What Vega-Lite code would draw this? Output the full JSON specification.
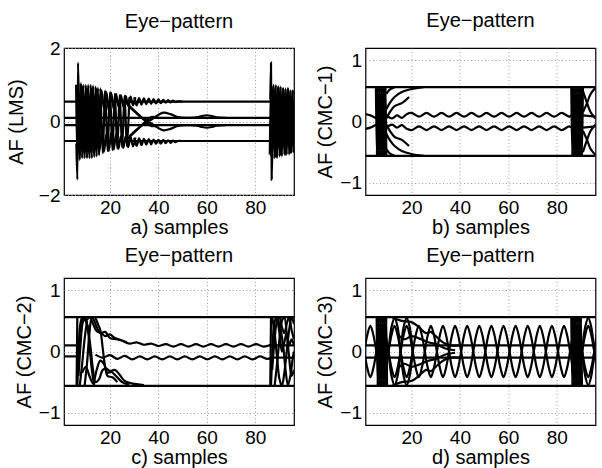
{
"$schema": "https://vega.github.io/schema/vega-lite/v6.json",
"padding": {"left": 5, "top": 10, "right": 2, "bottom": 0},
"background": "white",
"config": {
 "font": "Liberation Sans",
 "view": {"stroke": "black", "strokeWidth": 1.2},
 "axis": {"domain": false, "ticks": false, "labelFontSize": 19, "titleFontSize": 20, "titleFontWeight": "normal", "labelColor": "black", "titleColor": "black", "labelFont": "Liberation Sans", "titleFont": "Liberation Sans", "grid": true, "gridColor": "#999999", "gridDash": [1, 2.5], "gridWidth": 1},
 "axisX": {"labelPadding": 3, "titlePadding": 0},
 "axisY": {"labelPadding": 4},
 "title": {"fontSize": 20, "fontWeight": "normal", "color": "black", "font": "Liberation Sans", "frame": "group", "anchor": "middle"}
},
"datasets": {
 "a": [
  {"t":"a1","x":1,"y":0.54},{"t":"a1","x":96,"y":0.54},
  {"t":"a2","x":1,"y":-0.53},{"t":"a2","x":96,"y":-0.53},
  {"t":"a3","x":1,"y":0.1},{"t":"a3","x":96,"y":0.1},
  {"t":"a4","x":1,"y":-0.1},{"t":"a4","x":96,"y":-0.1},
  {"t":"a5","x":28,"y":0.4},{"t":"a5","x":31,"y":0.22},{"t":"a5","x":34,"y":0.06},{"t":"a5","x":36,"y":0.02},{"t":"a5","x":39,"y":0.14},{"t":"a5","x":42,"y":0.24},{"t":"a5","x":45,"y":0.2},{"t":"a5","x":48,"y":0.12},{"t":"a5","x":52,"y":0.1},{"t":"a5","x":56,"y":0.11},{"t":"a5","x":58,"y":0.15},{"t":"a5","x":60,"y":0.17},{"t":"a5","x":62,"y":0.15},{"t":"a5","x":64,"y":0.11},{"t":"a5","x":68,"y":0.1},
  {"t":"a6","x":28,"y":-0.4},{"t":"a6","x":31,"y":-0.22},{"t":"a6","x":34,"y":-0.06},{"t":"a6","x":36,"y":-0.02},{"t":"a6","x":39,"y":-0.14},{"t":"a6","x":42,"y":-0.24},{"t":"a6","x":45,"y":-0.2},{"t":"a6","x":48,"y":-0.12},{"t":"a6","x":52,"y":-0.1},{"t":"a6","x":56,"y":-0.11},{"t":"a6","x":58,"y":-0.15},{"t":"a6","x":60,"y":-0.17},{"t":"a6","x":62,"y":-0.15},{"t":"a6","x":64,"y":-0.11},{"t":"a6","x":68,"y":-0.1},
  {"t":"a7","x":26,"y":0.55},{"t":"a7","x":30,"y":0.3},{"t":"a7","x":34,"y":0.05},{"t":"a7","x":37,"y":-0.12},{"t":"a7","x":40,"y":-0.1},
  {"t":"a8","x":26,"y":-0.55},{"t":"a8","x":30,"y":-0.3},{"t":"a8","x":34,"y":-0.05},{"t":"a8","x":37,"y":0.12},{"t":"a8","x":40,"y":0.1},
  {"t":"a9","x":6.1,"y":-0.6},{"t":"a9","x":6.5,"y":-1.58},{"t":"a9","x":6.8,"y":1.6},{"t":"a9","x":7.1,"y":0.6},
  {"t":"a10","x":6,"y":1.0},{"t":"a10","x":6.5,"y":-1.05},{"t":"a10","x":7,"y":1.05},{"t":"a10","x":7.5,"y":-1.05},{"t":"a10","x":8,"y":1.05},{"t":"a10","x":8.5,"y":-1.0},{"t":"a10","x":9,"y":1.0},{"t":"a10","x":9.5,"y":-1.0},{"t":"a10","x":10,"y":1.0},{"t":"a10","x":10.5,"y":-1.0},{"t":"a10","x":11,"y":1.0},{"t":"a10","x":11.5,"y":-1.0},{"t":"a10","x":12,"y":1.0},{"t":"a10","x":12.5,"y":-1.0},{"t":"a10","x":13,"y":0.98},{"t":"a10","x":13.5,"y":-0.97},{"t":"a10","x":14,"y":0.95},{"t":"a10","x":14.5,"y":-0.95},{"t":"a10","x":15,"y":0.92},{"t":"a10","x":15.5,"y":-0.92},{"t":"a10","x":16,"y":0.9},{"t":"a10","x":17,"y":-0.86},{"t":"a10","x":18,"y":0.84},{"t":"a10","x":19,"y":-0.8},{"t":"a10","x":20,"y":0.8},{"t":"a10","x":21,"y":-0.78},{"t":"a10","x":22,"y":0.76},{"t":"a10","x":23,"y":-0.74},{"t":"a10","x":24,"y":0.72},{"t":"a10","x":25,"y":-0.7},{"t":"a10","x":26,"y":0.7},{"t":"a10","x":27,"y":-0.68},{"t":"a10","x":28,"y":0.66},
  {"t":"a11","x":6.5,"y":0.9},{"t":"a11","x":7.5,"y":0.3},{"t":"a11","x":8.5,"y":0.95},{"t":"a11","x":9.5,"y":0.25},{"t":"a11","x":10.5,"y":0.9},{"t":"a11","x":11.5,"y":0.3},{"t":"a11","x":12.5,"y":0.9},{"t":"a11","x":13.5,"y":0.35},{"t":"a11","x":14.5,"y":0.88},{"t":"a11","x":15.5,"y":0.3},{"t":"a11","x":16.5,"y":0.85},{"t":"a11","x":17.5,"y":0.35},{"t":"a11","x":18.5,"y":0.8},{"t":"a11","x":19.5,"y":0.3},{"t":"a11","x":20.5,"y":0.78},{"t":"a11","x":21.5,"y":0.35},{"t":"a11","x":22.5,"y":0.75},{"t":"a11","x":23.5,"y":0.4},{"t":"a11","x":24.5,"y":0.72},{"t":"a11","x":25.5,"y":0.4},{"t":"a11","x":26.5,"y":0.7},{"t":"a11","x":27.5,"y":0.42},{"t":"a11","x":28.5,"y":0.68},{"t":"a11","x":29.5,"y":0.44},{"t":"a11","x":30.5,"y":0.66},
  {"t":"a12","x":6.5,"y":-0.3},{"t":"a12","x":7.5,"y":-0.95},{"t":"a12","x":8.5,"y":-0.3},{"t":"a12","x":9.5,"y":-0.9},{"t":"a12","x":10.5,"y":-0.25},{"t":"a12","x":11.5,"y":-0.9},{"t":"a12","x":12.5,"y":-0.3},{"t":"a12","x":13.5,"y":-0.88},{"t":"a12","x":14.5,"y":-0.35},{"t":"a12","x":15.5,"y":-0.85},{"t":"a12","x":16.5,"y":-0.3},{"t":"a12","x":17.5,"y":-0.82},{"t":"a12","x":18.5,"y":-0.35},{"t":"a12","x":19.5,"y":-0.8},{"t":"a12","x":20.5,"y":-0.3},{"t":"a12","x":21.5,"y":-0.76},{"t":"a12","x":22.5,"y":-0.35},{"t":"a12","x":23.5,"y":-0.74},{"t":"a12","x":24.5,"y":-0.4},{"t":"a12","x":25.5,"y":-0.72},{"t":"a12","x":26.5,"y":-0.4},{"t":"a12","x":27.5,"y":-0.7},{"t":"a12","x":28.5,"y":-0.42},{"t":"a12","x":29.5,"y":-0.68},{"t":"a12","x":30.5,"y":-0.44},
  {"t":"a13","x":30,"y":0.66},{"t":"a13","x":31,"y":0.44},{"t":"a13","x":32,"y":0.64},{"t":"a13","x":33,"y":0.46},{"t":"a13","x":34,"y":0.63},{"t":"a13","x":35,"y":0.47},{"t":"a13","x":36,"y":0.62},{"t":"a13","x":37,"y":0.48},{"t":"a13","x":38,"y":0.61},{"t":"a13","x":39,"y":0.49},{"t":"a13","x":40,"y":0.6},{"t":"a13","x":41,"y":0.5},{"t":"a13","x":42,"y":0.59},{"t":"a13","x":43,"y":0.51},{"t":"a13","x":44,"y":0.58},{"t":"a13","x":45,"y":0.52},{"t":"a13","x":46,"y":0.57},{"t":"a13","x":47,"y":0.53},{"t":"a13","x":48,"y":0.55},{"t":"a13","x":50,"y":0.54},
  {"t":"a14","x":30,"y":-0.44},{"t":"a14","x":31,"y":-0.66},{"t":"a14","x":32,"y":-0.46},{"t":"a14","x":33,"y":-0.64},{"t":"a14","x":34,"y":-0.47},{"t":"a14","x":35,"y":-0.63},{"t":"a14","x":36,"y":-0.48},{"t":"a14","x":37,"y":-0.62},{"t":"a14","x":38,"y":-0.49},{"t":"a14","x":39,"y":-0.61},{"t":"a14","x":40,"y":-0.5},{"t":"a14","x":41,"y":-0.6},{"t":"a14","x":42,"y":-0.5},{"t":"a14","x":43,"y":-0.59},{"t":"a14","x":44,"y":-0.51},{"t":"a14","x":45,"y":-0.58},{"t":"a14","x":46,"y":-0.52},{"t":"a14","x":47,"y":-0.56},{"t":"a14","x":48,"y":-0.53},{"t":"a14","x":50,"y":-0.53},
  {"t":"a15","x":86.2,"y":0.6},{"t":"a15","x":86.5,"y":1.6},{"t":"a15","x":86.8,"y":-1.58},{"t":"a15","x":87.1,"y":-0.6},
  {"t":"a16","x":86,"y":-0.9},{"t":"a16","x":86.5,"y":1.0},{"t":"a16","x":87,"y":-1.0},{"t":"a16","x":87.5,"y":1.0},{"t":"a16","x":88,"y":-1.0},{"t":"a16","x":88.5,"y":1.0},{"t":"a16","x":89,"y":-1.0},{"t":"a16","x":89.5,"y":0.95},{"t":"a16","x":90,"y":-0.95},{"t":"a16","x":90.5,"y":0.95},{"t":"a16","x":91,"y":-0.95},{"t":"a16","x":91.5,"y":0.9},{"t":"a16","x":92,"y":-0.9},{"t":"a16","x":92.5,"y":0.9},{"t":"a16","x":93,"y":-0.9},{"t":"a16","x":93.5,"y":0.9},{"t":"a16","x":94,"y":-0.9},{"t":"a16","x":94.5,"y":0.85},{"t":"a16","x":95,"y":-0.85},{"t":"a16","x":95.5,"y":0.85},{"t":"a16","x":96,"y":-0.85},
  {"t":"a17","x":86.5,"y":0.3},{"t":"a17","x":87.5,"y":0.95},{"t":"a17","x":88.5,"y":0.3},{"t":"a17","x":89.5,"y":0.95},{"t":"a17","x":90.5,"y":0.3},{"t":"a17","x":91.5,"y":0.9},{"t":"a17","x":92.5,"y":0.3},{"t":"a17","x":93.5,"y":0.9},{"t":"a17","x":94.5,"y":0.3},{"t":"a17","x":95.5,"y":0.85},
  {"t":"a18","x":86.5,"y":-0.95},{"t":"a18","x":87.5,"y":-0.3},{"t":"a18","x":88.5,"y":-0.95},{"t":"a18","x":89.5,"y":-0.3},{"t":"a18","x":90.5,"y":-0.9},{"t":"a18","x":91.5,"y":-0.3},{"t":"a18","x":92.5,"y":-0.9},{"t":"a18","x":93.5,"y":-0.3},{"t":"a18","x":94.5,"y":-0.85},{"t":"a18","x":95.5,"y":-0.3}
 ],
 "b": [
  {"t":"b1","x":1,"y":0.56},{"t":"b1","x":96,"y":0.56},
  {"t":"b2","x":1,"y":-0.56},{"t":"b2","x":96,"y":-0.56},
  {"t":"b3","x":1,"y":0.12},{"t":"b3","x":3,"y":0.1},{"t":"b3","x":5.5,"y":0.05},
  {"t":"b4","x":1,"y":-0.12},{"t":"b4","x":3,"y":-0.1},{"t":"b4","x":5.5,"y":-0.05},
  {"t":"b5","x":5.3,"y":0.56},{"t":"b5","x":5.7,"y":-0.56},{"t":"b5","x":6.1,"y":0.56},{"t":"b5","x":6.5,"y":-0.56},{"t":"b5","x":6.9,"y":0.56},{"t":"b5","x":7.3,"y":-0.56},{"t":"b5","x":7.7,"y":0.56},{"t":"b5","x":8.1,"y":-0.56},{"t":"b5","x":8.5,"y":0.56},{"t":"b5","x":8.9,"y":-0.56},{"t":"b5","x":9.3,"y":0.56},{"t":"b5","x":9.6,"y":-0.56},
  {"t":"b6","x":86,"y":0.56},{"t":"b6","x":86.4,"y":-0.56},{"t":"b6","x":86.8,"y":0.56},{"t":"b6","x":87.2,"y":-0.56},{"t":"b6","x":87.6,"y":0.56},{"t":"b6","x":88,"y":-0.56},{"t":"b6","x":88.4,"y":0.56},{"t":"b6","x":88.8,"y":-0.56},{"t":"b6","x":89.2,"y":0.56},{"t":"b6","x":89.6,"y":-0.56},{"t":"b6","x":90,"y":0.56},{"t":"b6","x":90.4,"y":-0.56},{"t":"b6","x":90.8,"y":0.56},
  {"t":"b7","x":9.6,"y":0.1},{"t":"b7","x":12,"y":0.05},{"t":"b7","x":14,"y":0.1},{"t":"b7","x":16,"y":0.06},{"t":"b7","x":18,"y":0.12},{"t":"b7","x":20,"y":0.14},{"t":"b7","x":23.1,"y":0.08},{"t":"b7","x":26.2,"y":0.14},{"t":"b7","x":29.3,"y":0.08},{"t":"b7","x":32.4,"y":0.14},{"t":"b7","x":35.5,"y":0.08},{"t":"b7","x":38.6,"y":0.14},{"t":"b7","x":41.7,"y":0.08},{"t":"b7","x":44.8,"y":0.14},{"t":"b7","x":47.9,"y":0.08},{"t":"b7","x":51,"y":0.14},{"t":"b7","x":54.1,"y":0.08},{"t":"b7","x":57.2,"y":0.14},{"t":"b7","x":60.3,"y":0.08},{"t":"b7","x":63.4,"y":0.14},{"t":"b7","x":66.5,"y":0.08},{"t":"b7","x":69.6,"y":0.14},{"t":"b7","x":72.7,"y":0.08},{"t":"b7","x":75.8,"y":0.14},{"t":"b7","x":78.9,"y":0.08},{"t":"b7","x":82,"y":0.14},{"t":"b7","x":85.1,"y":0.08},{"t":"b7","x":86,"y":0.1},
  {"t":"b8","x":9.6,"y":-0.1},{"t":"b8","x":12,"y":-0.05},{"t":"b8","x":14,"y":-0.1},{"t":"b8","x":16,"y":-0.06},{"t":"b8","x":18,"y":-0.12},{"t":"b8","x":20,"y":-0.14},{"t":"b8","x":23.1,"y":-0.08},{"t":"b8","x":26.2,"y":-0.14},{"t":"b8","x":29.3,"y":-0.08},{"t":"b8","x":32.4,"y":-0.14},{"t":"b8","x":35.5,"y":-0.08},{"t":"b8","x":38.6,"y":-0.14},{"t":"b8","x":41.7,"y":-0.08},{"t":"b8","x":44.8,"y":-0.14},{"t":"b8","x":47.9,"y":-0.08},{"t":"b8","x":51,"y":-0.14},{"t":"b8","x":54.1,"y":-0.08},{"t":"b8","x":57.2,"y":-0.14},{"t":"b8","x":60.3,"y":-0.08},{"t":"b8","x":63.4,"y":-0.14},{"t":"b8","x":66.5,"y":-0.08},{"t":"b8","x":69.6,"y":-0.14},{"t":"b8","x":72.7,"y":-0.08},{"t":"b8","x":75.8,"y":-0.14},{"t":"b8","x":78.9,"y":-0.08},{"t":"b8","x":82,"y":-0.14},{"t":"b8","x":85.1,"y":-0.08},{"t":"b8","x":86,"y":-0.1},
  {"t":"b9","x":90.8,"y":0.1},{"t":"b9","x":96,"y":0.08},
  {"t":"b9b","x":90.8,"y":-0.1},{"t":"b9b","x":96,"y":-0.08},
  {"t":"b10","x":9.6,"y":0.2},{"t":"b10","x":11,"y":0.3},{"t":"b10","x":13,"y":0.4},{"t":"b10","x":16,"y":0.48},{"t":"b10","x":20,"y":0.53},{"t":"b10","x":25,"y":0.56},
  {"t":"b11","x":9.6,"y":0.45},{"t":"b11","x":11,"y":0.52},{"t":"b11","x":13,"y":0.56},
  {"t":"b12","x":9.6,"y":-0.2},{"t":"b12","x":11,"y":-0.3},{"t":"b12","x":13,"y":-0.4},{"t":"b12","x":16,"y":-0.48},{"t":"b12","x":20,"y":-0.53},{"t":"b12","x":25,"y":-0.56},
  {"t":"b13","x":9.6,"y":-0.45},{"t":"b13","x":11,"y":-0.52},{"t":"b13","x":13,"y":-0.56},
  {"t":"b14","x":9.6,"y":0.05},{"t":"b14","x":11,"y":0.15},{"t":"b14","x":13,"y":0.25},{"t":"b14","x":16,"y":0.3},{"t":"b14","x":19,"y":0.4},
  {"t":"b15","x":9.6,"y":-0.05},{"t":"b15","x":11,"y":-0.15},{"t":"b15","x":13,"y":-0.25},{"t":"b15","x":16,"y":-0.3},{"t":"b15","x":19,"y":-0.4},
  {"t":"b16","x":90.8,"y":0.5},{"t":"b16","x":92.5,"y":0.3},{"t":"b16","x":94,"y":0.15},{"t":"b16","x":96,"y":0.05},
  {"t":"b17","x":90.8,"y":0.15},{"t":"b17","x":92.5,"y":0.3},{"t":"b17","x":94,"y":0.45},{"t":"b17","x":96,"y":0.55},
  {"t":"b18","x":90.8,"y":-0.5},{"t":"b18","x":92.5,"y":-0.3},{"t":"b18","x":94,"y":-0.15},{"t":"b18","x":96,"y":-0.05},
  {"t":"b19","x":90.8,"y":-0.15},{"t":"b19","x":92.5,"y":-0.3},{"t":"b19","x":94,"y":-0.45},{"t":"b19","x":96,"y":-0.55}
 ],
 "c": [
  {"t":"c1","x":1,"y":0.56},{"t":"c1","x":96,"y":0.56},
  {"t":"c2","x":1,"y":-0.56},{"t":"c2","x":96,"y":-0.56},
  {"t":"c3","x":1,"y":0.1},{"t":"c3","x":6.3,"y":0.1},
  {"t":"c4","x":1,"y":-0.08},{"t":"c4","x":6.3,"y":-0.08},
  {"t":"c5","x":6.2,"y":-0.56},{"t":"c5","x":6.5,"y":0.56},
  {"t":"c6","x":25,"y":0.18},{"t":"c6","x":28,"y":0.13},{"t":"c6","x":31,"y":0.15},{"t":"c6","x":34,"y":0.11},{"t":"c6","x":37,"y":0.13},{"t":"c6","x":40,"y":0.09},{"t":"c6","x":43.1,"y":0.12},{"t":"c6","x":46.2,"y":0.08},{"t":"c6","x":49.3,"y":0.12},{"t":"c6","x":52.4,"y":0.08},{"t":"c6","x":55.5,"y":0.12},{"t":"c6","x":58.6,"y":0.08},{"t":"c6","x":61.7,"y":0.12},{"t":"c6","x":64.8,"y":0.08},{"t":"c6","x":67.9,"y":0.12},{"t":"c6","x":71,"y":0.08},{"t":"c6","x":74.1,"y":0.12},{"t":"c6","x":77.2,"y":0.08},{"t":"c6","x":80.3,"y":0.12},{"t":"c6","x":83.4,"y":0.08},{"t":"c6","x":86.5,"y":0.11},
  {"t":"c7","x":14,"y":-0.05},{"t":"c7","x":17,"y":-0.1},{"t":"c7","x":20,"y":-0.06},{"t":"c7","x":23,"y":-0.12},{"t":"c7","x":26.1,"y":-0.07},{"t":"c7","x":29.2,"y":-0.13},{"t":"c7","x":32.3,"y":-0.08},{"t":"c7","x":35.4,"y":-0.13},{"t":"c7","x":38.5,"y":-0.08},{"t":"c7","x":41.6,"y":-0.13},{"t":"c7","x":44.7,"y":-0.08},{"t":"c7","x":47.8,"y":-0.13},{"t":"c7","x":50.9,"y":-0.08},{"t":"c7","x":54,"y":-0.13},{"t":"c7","x":57.1,"y":-0.08},{"t":"c7","x":60.2,"y":-0.13},{"t":"c7","x":63.3,"y":-0.08},{"t":"c7","x":66.4,"y":-0.13},{"t":"c7","x":69.5,"y":-0.08},{"t":"c7","x":72.6,"y":-0.13},{"t":"c7","x":75.7,"y":-0.08},{"t":"c7","x":78.8,"y":-0.13},{"t":"c7","x":81.9,"y":-0.08},{"t":"c7","x":85,"y":-0.12},{"t":"c7","x":87,"y":-0.1},
  {"t":"c8","x":86.5,"y":0.1},{"t":"c8","x":96,"y":0.1},
  {"t":"c9","x":87,"y":-0.1},{"t":"c9","x":96,"y":-0.1},
  {"t":"c10","x":6.5,"y":-0.56},{"t":"c10","x":7,"y":-0.1},{"t":"c10","x":7.6,"y":0.4},{"t":"c10","x":8.5,"y":0.55},{"t":"c10","x":10,"y":0.5},{"t":"c10","x":11.5,"y":0.56},{"t":"c10","x":13,"y":0.45},{"t":"c10","x":14.5,"y":0.33},{"t":"c10","x":16.5,"y":0.3},{"t":"c10","x":18,"y":0.25},{"t":"c10","x":20,"y":0.28},{"t":"c10","x":22,"y":0.22},{"t":"c10","x":25,"y":0.18},
  {"t":"c11","x":7,"y":-0.4},{"t":"c11","x":7.8,"y":0.1},{"t":"c11","x":8.6,"y":0.45},{"t":"c11","x":9.5,"y":0.56},{"t":"c11","x":10.8,"y":0.4},{"t":"c11","x":12,"y":0.05},{"t":"c11","x":13,"y":-0.3},{"t":"c11","x":14,"y":-0.5},{"t":"c11","x":15.5,"y":-0.45},{"t":"c11","x":17,"y":-0.3},{"t":"c11","x":18.5,"y":-0.28},{"t":"c11","x":20,"y":-0.32},{"t":"c11","x":22,"y":-0.3},{"t":"c11","x":24,"y":-0.38},{"t":"c11","x":26,"y":-0.48},{"t":"c11","x":29,"y":-0.52},{"t":"c11","x":34,"y":-0.55},
  {"t":"c12","x":8,"y":0.3},{"t":"c12","x":9,"y":0.56},{"t":"c12","x":10.5,"y":0.45},{"t":"c12","x":11.5,"y":0.1},{"t":"c12","x":12.5,"y":-0.3},{"t":"c12","x":13.5,"y":-0.56},
  {"t":"c13","x":9.5,"y":-0.56},{"t":"c13","x":10.5,"y":-0.2},{"t":"c13","x":11.5,"y":0.3},{"t":"c13","x":12.5,"y":0.56},{"t":"c13","x":13.5,"y":0.5},{"t":"c13","x":14.5,"y":0.4},{"t":"c13","x":16,"y":0.3},{"t":"c13","x":18,"y":0.32},{"t":"c13","x":20,"y":0.22},{"t":"c13","x":23,"y":0.2},{"t":"c13","x":27,"y":0.15},
  {"t":"c14","x":8.5,"y":-0.35},{"t":"c14","x":10,"y":-0.25},{"t":"c14","x":11.5,"y":-0.4},{"t":"c14","x":13,"y":-0.52},{"t":"c14","x":14.5,"y":-0.3},{"t":"c14","x":16,"y":-0.15},{"t":"c14","x":17.5,"y":-0.2},{"t":"c14","x":19,"y":-0.35},{"t":"c14","x":20.5,"y":-0.33},{"t":"c14","x":22.5,"y":-0.4},{"t":"c14","x":25,"y":-0.5},{"t":"c14","x":28,"y":-0.54},
  {"t":"c15","x":7.5,"y":-0.56},{"t":"c15","x":8.5,"y":-0.2},{"t":"c15","x":9.5,"y":0.2},{"t":"c15","x":10.5,"y":0.5},
  {"t":"c16","x":14,"y":0.55},{"t":"c16","x":15,"y":0.45},{"t":"c16","x":16,"y":0.35},{"t":"c16","x":17,"y":0.05},{"t":"c16","x":18,"y":-0.25},{"t":"c16","x":19,"y":-0.4},{"t":"c16","x":21,"y":-0.42},{"t":"c16","x":23,"y":-0.5},
  {"t":"c17","x":86.2,"y":-0.56},{"t":"c17","x":86.5,"y":0.56},
  {"t":"c18","x":86.5,"y":-0.56},{"t":"c18","x":87.1,"y":0},{"t":"c18","x":87.8,"y":0.45},{"t":"c18","x":88.8,"y":0.56},{"t":"c18","x":90,"y":0.45},{"t":"c18","x":91.5,"y":0.1},{"t":"c18","x":92.5,"y":-0.3},{"t":"c18","x":93.5,"y":-0.55},{"t":"c18","x":94.5,"y":-0.4},{"t":"c18","x":95.5,"y":-0.1},{"t":"c18","x":96,"y":0},
  {"t":"c19","x":87,"y":-0.3},{"t":"c19","x":88,"y":0.2},{"t":"c19","x":89,"y":0.5},{"t":"c19","x":90,"y":0.56},{"t":"c19","x":91,"y":0.4},{"t":"c19","x":92,"y":0.3},{"t":"c19","x":93,"y":0.45},{"t":"c19","x":94,"y":0.56},{"t":"c19","x":95,"y":0.35},{"t":"c19","x":96,"y":0.2},
  {"t":"c20","x":87,"y":0.56},{"t":"c20","x":88,"y":0.3},{"t":"c20","x":89,"y":-0.1},{"t":"c20","x":90,"y":-0.45},{"t":"c20","x":91,"y":-0.56},{"t":"c20","x":92,"y":-0.35},{"t":"c20","x":93,"y":0},{"t":"c20","x":94,"y":0.35},{"t":"c20","x":95,"y":0.56},{"t":"c20","x":96,"y":0.45},
  {"t":"c21","x":88,"y":-0.56},{"t":"c21","x":89,"y":-0.2},{"t":"c21","x":90,"y":0.2},{"t":"c21","x":91,"y":0.5},{"t":"c21","x":92,"y":0.56},{"t":"c21","x":93,"y":0.3},{"t":"c21","x":94,"y":-0.1},{"t":"c21","x":95,"y":-0.4},{"t":"c21","x":96,"y":-0.3},
  {"t":"c22","x":89,"y":0.56},{"t":"c22","x":90,"y":0.3},{"t":"c22","x":91,"y":0.0},{"t":"c22","x":92,"y":0.15},{"t":"c22","x":93,"y":0.3},{"t":"c22","x":94,"y":0.1},{"t":"c22","x":95,"y":0.2},{"t":"c22","x":96,"y":0.1}
 ],
 "d": [
  {"t":"d1","x":1,"y":0.56},{"t":"d1","x":96,"y":0.56},
  {"t":"d2","x":1,"y":-0.56},{"t":"d2","x":96,"y":-0.56},
  {"t":"d3","x":1,"y":0.1},{"t":"d3","x":96,"y":0.1},
  {"t":"d4","x":1,"y":-0.1},{"t":"d4","x":96,"y":-0.1},
  {"t":"d6","x":0.5,"y":0},{"t":"d6","x":1.75,"y":0.27},{"t":"d6","x":3,"y":0.42},{"t":"d6","x":4.25,"y":0.27},{"t":"d6","x":5.5,"y":0},{"t":"d6","x":6.75,"y":-0.27},{"t":"d6","x":8,"y":-0.42},{"t":"d6","x":9.25,"y":-0.27},{"t":"d6","x":10.5,"y":0},{"t":"d6","x":11.75,"y":0.27},{"t":"d6","x":13,"y":0.42},{"t":"d6","x":14.25,"y":0.27},{"t":"d6","x":15.5,"y":0},{"t":"d6","x":16.75,"y":-0.27},{"t":"d6","x":18,"y":-0.42},{"t":"d6","x":19.25,"y":-0.27},{"t":"d6","x":20.5,"y":0},{"t":"d6","x":21.75,"y":0.27},{"t":"d6","x":23,"y":0.42},{"t":"d6","x":24.25,"y":0.27},{"t":"d6","x":25.5,"y":0},{"t":"d6","x":26.75,"y":-0.27},{"t":"d6","x":28,"y":-0.42},{"t":"d6","x":29.25,"y":-0.27},{"t":"d6","x":30.5,"y":0},{"t":"d6","x":31.75,"y":0.27},{"t":"d6","x":33,"y":0.42},{"t":"d6","x":34.25,"y":0.27},{"t":"d6","x":35.5,"y":0},{"t":"d6","x":36.75,"y":-0.27},{"t":"d6","x":38,"y":-0.42},{"t":"d6","x":39.25,"y":-0.27},{"t":"d6","x":40.5,"y":0},{"t":"d6","x":41.75,"y":0.27},{"t":"d6","x":43,"y":0.42},{"t":"d6","x":44.25,"y":0.27},{"t":"d6","x":45.5,"y":0},{"t":"d6","x":46.75,"y":-0.27},{"t":"d6","x":48,"y":-0.42},{"t":"d6","x":49.25,"y":-0.27},{"t":"d6","x":50.5,"y":0},{"t":"d6","x":51.75,"y":0.27},{"t":"d6","x":53,"y":0.42},{"t":"d6","x":54.25,"y":0.27},{"t":"d6","x":55.5,"y":0},{"t":"d6","x":56.75,"y":-0.27},{"t":"d6","x":58,"y":-0.42},{"t":"d6","x":59.25,"y":-0.27},{"t":"d6","x":60.5,"y":0},{"t":"d6","x":61.75,"y":0.27},{"t":"d6","x":63,"y":0.42},{"t":"d6","x":64.25,"y":0.27},{"t":"d6","x":65.5,"y":0},{"t":"d6","x":66.75,"y":-0.27},{"t":"d6","x":68,"y":-0.42},{"t":"d6","x":69.25,"y":-0.27},{"t":"d6","x":70.5,"y":0},{"t":"d6","x":71.75,"y":0.27},{"t":"d6","x":73,"y":0.42},{"t":"d6","x":74.25,"y":0.27},{"t":"d6","x":75.5,"y":0},{"t":"d6","x":76.75,"y":-0.27},{"t":"d6","x":78,"y":-0.42},{"t":"d6","x":79.25,"y":-0.27},{"t":"d6","x":80.5,"y":0},{"t":"d6","x":81.75,"y":0.27},{"t":"d6","x":83,"y":0.42},{"t":"d6","x":84.25,"y":0.27},{"t":"d6","x":85.5,"y":0},{"t":"d6","x":86.75,"y":-0.27},{"t":"d6","x":88,"y":-0.42},{"t":"d6","x":89.25,"y":-0.27},{"t":"d6","x":90.5,"y":0},{"t":"d6","x":91.75,"y":0.27},{"t":"d6","x":93,"y":0.42},{"t":"d6","x":94.25,"y":0.27},{"t":"d6","x":95.5,"y":0},{"t":"d6","x":96.75,"y":-0.27},
  {"t":"d7","x":0.5,"y":0},{"t":"d7","x":1.75,"y":-0.27},{"t":"d7","x":3,"y":-0.42},{"t":"d7","x":4.25,"y":-0.27},{"t":"d7","x":5.5,"y":0},{"t":"d7","x":6.75,"y":0.27},{"t":"d7","x":8,"y":0.42},{"t":"d7","x":9.25,"y":0.27},{"t":"d7","x":10.5,"y":0},{"t":"d7","x":11.75,"y":-0.27},{"t":"d7","x":13,"y":-0.42},{"t":"d7","x":14.25,"y":-0.27},{"t":"d7","x":15.5,"y":0},{"t":"d7","x":16.75,"y":0.27},{"t":"d7","x":18,"y":0.42},{"t":"d7","x":19.25,"y":0.27},{"t":"d7","x":20.5,"y":0},{"t":"d7","x":21.75,"y":-0.27},{"t":"d7","x":23,"y":-0.42},{"t":"d7","x":24.25,"y":-0.27},{"t":"d7","x":25.5,"y":0},{"t":"d7","x":26.75,"y":0.27},{"t":"d7","x":28,"y":0.42},{"t":"d7","x":29.25,"y":0.27},{"t":"d7","x":30.5,"y":0},{"t":"d7","x":31.75,"y":-0.27},{"t":"d7","x":33,"y":-0.42},{"t":"d7","x":34.25,"y":-0.27},{"t":"d7","x":35.5,"y":0},{"t":"d7","x":36.75,"y":0.27},{"t":"d7","x":38,"y":0.42},{"t":"d7","x":39.25,"y":0.27},{"t":"d7","x":40.5,"y":0},{"t":"d7","x":41.75,"y":-0.27},{"t":"d7","x":43,"y":-0.42},{"t":"d7","x":44.25,"y":-0.27},{"t":"d7","x":45.5,"y":0},{"t":"d7","x":46.75,"y":0.27},{"t":"d7","x":48,"y":0.42},{"t":"d7","x":49.25,"y":0.27},{"t":"d7","x":50.5,"y":0},{"t":"d7","x":51.75,"y":-0.27},{"t":"d7","x":53,"y":-0.42},{"t":"d7","x":54.25,"y":-0.27},{"t":"d7","x":55.5,"y":0},{"t":"d7","x":56.75,"y":0.27},{"t":"d7","x":58,"y":0.42},{"t":"d7","x":59.25,"y":0.27},{"t":"d7","x":60.5,"y":0},{"t":"d7","x":61.75,"y":-0.27},{"t":"d7","x":63,"y":-0.42},{"t":"d7","x":64.25,"y":-0.27},{"t":"d7","x":65.5,"y":0},{"t":"d7","x":66.75,"y":0.27},{"t":"d7","x":68,"y":0.42},{"t":"d7","x":69.25,"y":0.27},{"t":"d7","x":70.5,"y":0},{"t":"d7","x":71.75,"y":-0.27},{"t":"d7","x":73,"y":-0.42},{"t":"d7","x":74.25,"y":-0.27},{"t":"d7","x":75.5,"y":0},{"t":"d7","x":76.75,"y":0.27},{"t":"d7","x":78,"y":0.42},{"t":"d7","x":79.25,"y":0.27},{"t":"d7","x":80.5,"y":0},{"t":"d7","x":81.75,"y":-0.27},{"t":"d7","x":83,"y":-0.42},{"t":"d7","x":84.25,"y":-0.27},{"t":"d7","x":85.5,"y":0},{"t":"d7","x":86.75,"y":0.27},{"t":"d7","x":88,"y":0.42},{"t":"d7","x":89.25,"y":0.27},{"t":"d7","x":90.5,"y":0},{"t":"d7","x":91.75,"y":-0.27},{"t":"d7","x":93,"y":-0.42},{"t":"d7","x":94.25,"y":-0.27},{"t":"d7","x":95.5,"y":0},{"t":"d7","x":96.75,"y":0.27},
  {"t":"d8","x":5.6,"y":0.56},{"t":"d8","x":6,"y":-0.56},{"t":"d8","x":6.4,"y":0.56},{"t":"d8","x":6.8,"y":-0.56},{"t":"d8","x":7.2,"y":0.56},{"t":"d8","x":7.6,"y":-0.56},{"t":"d8","x":8,"y":0.56},{"t":"d8","x":8.4,"y":-0.56},{"t":"d8","x":8.8,"y":0.56},{"t":"d8","x":9.2,"y":-0.56},{"t":"d8","x":9.6,"y":0.56},{"t":"d8","x":9.9,"y":-0.56},
  {"t":"d9","x":86,"y":0.56},{"t":"d9","x":86.4,"y":-0.56},{"t":"d9","x":86.8,"y":0.56},{"t":"d9","x":87.2,"y":-0.56},{"t":"d9","x":87.6,"y":0.56},{"t":"d9","x":88,"y":-0.56},{"t":"d9","x":88.4,"y":0.56},{"t":"d9","x":88.8,"y":-0.56},{"t":"d9","x":89.2,"y":0.56},{"t":"d9","x":89.6,"y":-0.56},{"t":"d9","x":90,"y":0.56},{"t":"d9","x":90.4,"y":-0.56},
  {"t":"d10","x":10.5,"y":0},{"t":"d10","x":11.75,"y":0.4},{"t":"d10","x":13,"y":0.55},{"t":"d10","x":14.25,"y":0.4},{"t":"d10","x":15.5,"y":0},{"t":"d10","x":16.75,"y":-0.4},{"t":"d10","x":18,"y":-0.55},{"t":"d10","x":19.25,"y":-0.4},{"t":"d10","x":20.5,"y":0},
  {"t":"d11","x":10.5,"y":0},{"t":"d11","x":11.75,"y":-0.4},{"t":"d11","x":13,"y":-0.55},{"t":"d11","x":14.25,"y":-0.4},{"t":"d11","x":15.5,"y":0},{"t":"d11","x":16.75,"y":0.4},{"t":"d11","x":18,"y":0.55},{"t":"d11","x":19.25,"y":0.4},{"t":"d11","x":20.5,"y":0},
  {"t":"d12","x":12,"y":0.56},{"t":"d12","x":16,"y":0.5},{"t":"d12","x":20,"y":0.48},{"t":"d12","x":23,"y":0.4},{"t":"d12","x":26,"y":0.3},{"t":"d12","x":28,"y":0.32},{"t":"d12","x":30,"y":0.25},{"t":"d12","x":33,"y":0.15},{"t":"d12","x":36,"y":0.1},{"t":"d12","x":40,"y":0.1},
  {"t":"d13","x":12,"y":-0.56},{"t":"d13","x":16,"y":-0.5},{"t":"d13","x":20,"y":-0.48},{"t":"d13","x":23,"y":-0.4},{"t":"d13","x":26,"y":-0.3},{"t":"d13","x":28,"y":-0.32},{"t":"d13","x":30,"y":-0.25},{"t":"d13","x":33,"y":-0.15},{"t":"d13","x":36,"y":-0.1},{"t":"d13","x":40,"y":-0.1},
  {"t":"d14","x":14,"y":0.3},{"t":"d14","x":17,"y":0.2},{"t":"d14","x":20,"y":0.25},{"t":"d14","x":24,"y":0.2},{"t":"d14","x":27,"y":0.15},{"t":"d14","x":30,"y":0.12},{"t":"d14","x":34,"y":0.05},{"t":"d14","x":38,"y":0.02},
  {"t":"d15","x":14,"y":-0.3},{"t":"d15","x":17,"y":-0.2},{"t":"d15","x":20,"y":-0.25},{"t":"d15","x":24,"y":-0.2},{"t":"d15","x":27,"y":-0.15},{"t":"d15","x":30,"y":-0.12},{"t":"d15","x":34,"y":-0.05},{"t":"d15","x":38,"y":-0.02},
  {"t":"d16","x":90.5,"y":0},{"t":"d16","x":91.75,"y":0.4},{"t":"d16","x":93,"y":0.55},{"t":"d16","x":94.25,"y":0.4},{"t":"d16","x":95.5,"y":0},{"t":"d16","x":96.5,"y":-0.3},
  {"t":"d17","x":90.5,"y":0},{"t":"d17","x":91.75,"y":-0.4},{"t":"d17","x":93,"y":-0.55},{"t":"d17","x":94.25,"y":-0.4},{"t":"d17","x":95.5,"y":0},{"t":"d17","x":96.5,"y":0.3}
 ]
},
"concat": [
  {"width": 230, "height": 147,
   "title": {"text": "Eye−pattern", "offset": 7},
   "data": {"name": "a"},
   "mark": {"type": "line", "interpolate": "catmull-rom", "strokeWidth": 2.2, "color": "black", "clip": true},
   "encoding": {
    "x": {"field": "x", "type": "quantitative", "scale": {"domain": [1, 96], "nice": false, "zero": false}, "axis": {"values": [20, 40, 60, 80], "title": "a) samples"}},
    "y": {"field": "y", "type": "quantitative", "scale": {"domain": [-2, 2], "nice": false}, "axis": {"values": [-2, 0, 2], "title": "AF (LMS)", "titlePadding": 12}},
    "detail": {"field": "t"},
    "order": {"value": null}
   }},
  {"width": 230, "height": 147,
   "title": {"text": "Eye−pattern", "offset": 17},
   "data": {"name": "b"},
   "mark": {"type": "line", "interpolate": "catmull-rom", "strokeWidth": 2.2, "color": "black", "clip": true},
   "encoding": {
    "x": {"field": "x", "type": "quantitative", "scale": {"domain": [1, 96], "nice": false, "zero": false}, "axis": {"values": [20, 40, 60, 80], "title": "b) samples"}},
    "y": {"field": "y", "type": "quantitative", "scale": {"domain": [-1.2, 1.2], "nice": false}, "axis": {"values": [-1, 0, 1], "title": "AF (CMC−1)", "titlePadding": 4}},
    "detail": {"field": "t"},
    "order": {"value": null}
   }},
  {"width": 230, "height": 147,
   "title": {"text": "Eye−pattern", "offset": 12.5},
   "data": {"name": "c"},
   "mark": {"type": "line", "interpolate": "catmull-rom", "strokeWidth": 2.2, "color": "black", "clip": true},
   "encoding": {
    "x": {"field": "x", "type": "quantitative", "scale": {"domain": [1, 96], "nice": false, "zero": false}, "axis": {"values": [20, 40, 60, 80], "title": "c) samples"}},
    "y": {"field": "y", "type": "quantitative", "scale": {"domain": [-1.2, 1.2], "nice": false}, "axis": {"values": [-1, 0, 1], "title": "AF (CMC−2)", "titlePadding": 4}},
    "detail": {"field": "t"},
    "order": {"value": null}
   }},
  {"width": 230, "height": 147,
   "title": {"text": "Eye−pattern", "offset": 12.5},
   "data": {"name": "d"},
   "mark": {"type": "line", "interpolate": "catmull-rom", "strokeWidth": 2.2, "color": "black", "clip": true},
   "encoding": {
    "x": {"field": "x", "type": "quantitative", "scale": {"domain": [1, 96], "nice": false, "zero": false}, "axis": {"values": [20, 40, 60, 80], "title": "d) samples"}},
    "y": {"field": "y", "type": "quantitative", "scale": {"domain": [-1.2, 1.2], "nice": false}, "axis": {"values": [-1, 0, 1], "title": "AF (CMC−3)", "titlePadding": 4}},
    "detail": {"field": "t"},
    "order": {"value": null}
   }}
],
"columns": 2,
"spacing": {"row": 83, "column": 71.5},
"bounds": "flush"
}
